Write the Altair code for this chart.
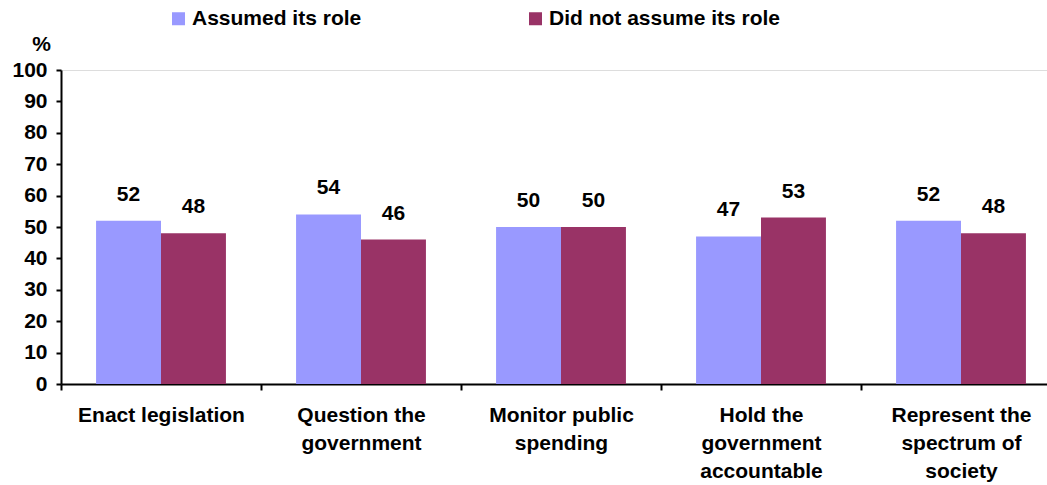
import altair as alt
import pandas as pd

categories = [
    "Enact legislation",
    "Question the\ngovernment",
    "Monitor public\nspending",
    "Hold the\ngovernment\naccountable",
    "Represent the\nspectrum of\nsociety",
]
series = ["Assumed its role", "Did not assume its role"]
assumed = [52, 54, 50, 47, 52]
not_assumed = [48, 46, 50, 53, 48]
colors = ["#9999FF", "#993366"]
y_ticks = [0, 10, 20, 30, 40, 50, 60, 70, 80, 90, 100]

rows = []
for c, a, n in zip(categories, assumed, not_assumed):
    rows.append({"category": c, "series": series[0], "value": a})
    rows.append({"category": c, "series": series[1], "value": n})
df = pd.DataFrame(rows)

FONT = "Liberation Sans"
FS = 21

base = alt.Chart(df).encode(
    x=alt.X(
        "category:N",
        sort=categories,
        scale=alt.Scale(paddingInner=0, paddingOuter=0, range=[0, 1000]),
        axis=alt.Axis(
            title=None,
            labelAngle=0,
            labelExpr="split(datum.label, '\\n')",
            labelFont=FONT,
            labelFontSize=FS,
            labelFontWeight="bold",
            labelColor="black",
            labelLineHeight=28,
            labelPadding=14,
            labelBaseline="top",
            tickBand="extent",
            tickSize=6,
            tickWidth=2,
            tickColor="black",
            domainColor="black",
            domainWidth=2,
            labelLimit=300,
            grid=False,
        ),
    ),
    xOffset=alt.XOffset(
        "series:N",
        sort=series,
        scale=alt.Scale(paddingInner=0, paddingOuter=0.54),
    ),
    y=alt.Y(
        "value:Q",
        scale=alt.Scale(domain=[0, 100], nice=False),
        axis=alt.Axis(
            values=y_ticks,
            labelOverlap=False,
            title="%",
            titleAngle=0,
            titleX=-20,
            titleY=-16,
            titleAlign="center",
            titleFont=FONT,
            titleFontSize=FS,
            titleFontWeight="bold",
            titleColor="black",
            labelFont=FONT,
            labelFontSize=FS,
            labelFontWeight="bold",
            labelColor="black",
            labelPadding=9,
            tickSize=5,
            tickWidth=2,
            tickColor="black",
            domainColor="black",
            domainWidth=2,
            grid=False,
        ),
    ),
)

bars = base.mark_bar().encode(
    color=alt.Color(
        "series:N",
        sort=series,
        scale=alt.Scale(domain=series, range=colors),
        legend=alt.Legend(
            title=None,
            orient="none",
            direction="horizontal",
            legendX=107,
            legendY=-62,
            symbolType="square",
            symbolSize=169,
            symbolStrokeWidth=0,
            labelFont=FONT,
            labelFontSize=FS,
            labelFontWeight="bold",
            labelColor="black",
            labelOffset=3,
            columnPadding=163,
            labelLimit=400,
        ),
    ),
)

labels = base.mark_text(
    font=FONT, fontSize=FS, fontWeight="bold", color="black",
    baseline="bottom", dy=-16,
).encode(
    text=alt.Text("value:Q"),
)

chart = (
    alt.layer(bars, labels)
    .properties(
        width=986,
        height=314,
        autosize=alt.AutoSizeParams(type="none"),
        padding={"left": 61, "top": 70, "right": 0, "bottom": 101},
    )
    .configure_view(stroke="transparent", strokeWidth=0, strokeOpacity=0)
    .configure_axis(grid=False, gridOpacity=0)
    .configure(background="white")
)

chart.save("out.html", embed_options={"renderer": "svg", "actions": False})
